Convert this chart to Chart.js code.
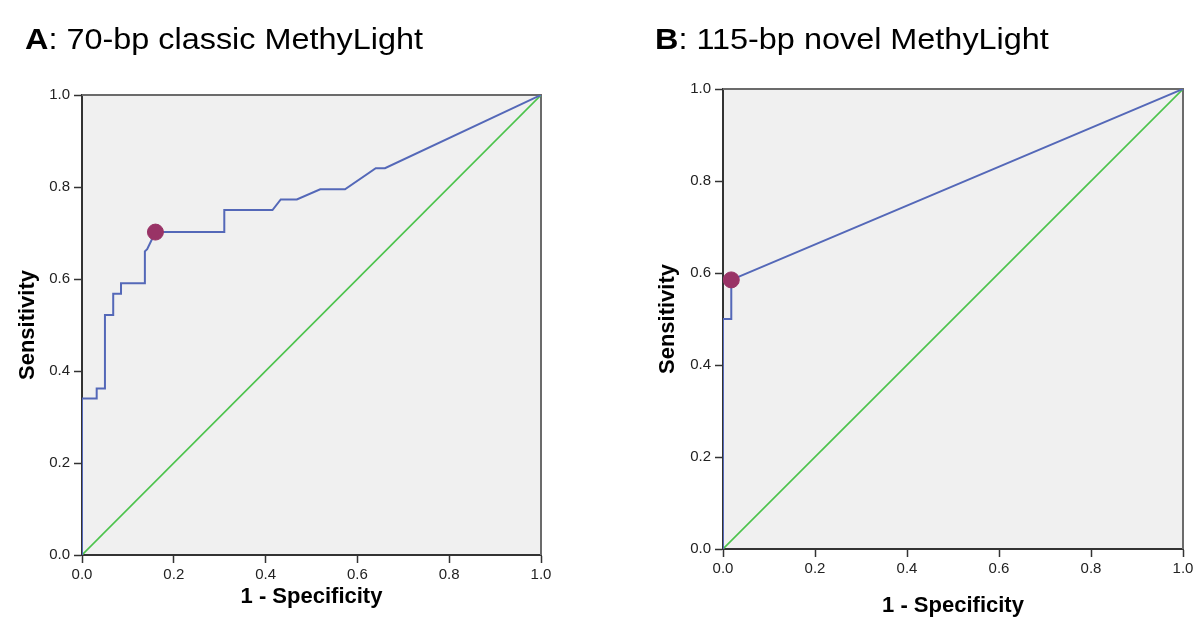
<!DOCTYPE html>
<html>
<head>
<meta charset="utf-8">
<script src="https://cdn.jsdelivr.net/npm/chart.js@4.4.0/dist/chart.umd.min.js"></script>
<style>
  body { margin: 0; background: #fff; width: 1200px; height: 643px; overflow: hidden; position: relative;
         font-family: "Liberation Sans", Arial, sans-serif; }
  .panel { position: absolute; top: 0; width: 600px; height: 643px; }
  .title { position: absolute; font-size: 30px; line-height: 30px; color: #000; white-space: nowrap;
           transform: scaleX(1.08); transform-origin: left top; }
</style>
</head>
<body>
<div class="panel" style="left:0"><canvas id="chartA"></canvas></div>
<div class="panel" style="left:600px"><canvas id="chartB"></canvas></div>
<div class="title" style="left:25px;top:24px"><b>A</b>: 70-bp classic MethyLight</div>
<div class="title" style="left:655px;top:24px"><b>B</b>: 115-bp novel MethyLight</div>

<script>
// ROC curve A (70-bp classic MethyLight)
const fprA = [0, 0, 0.032, 0.032, 0.05, 0.05, 0.068, 0.068, 0.085, 0.085, 0.137, 0.137,
              0.142, 0.16, 0.31, 0.31, 0.415, 0.433, 0.468, 0.519, 0.573, 0.64, 0.66, 1];
const tprA = [0, 0.34, 0.34, 0.362, 0.362, 0.522, 0.522, 0.568, 0.568, 0.591, 0.591, 0.66,
              0.665, 0.702, 0.702, 0.75, 0.75, 0.773, 0.773, 0.795, 0.795, 0.841, 0.841, 1];
const cutA = [0.16, 0.702];

// ROC curve B (115-bp novel MethyLight)
const fprB = [0, 0, 0.018, 0.018, 1];
const tprB = [0, 0.5, 0.5, 0.585, 1];
const cutB = [0.018, 0.585];

// reference diagonal
const refX = [0, 1];
const refY = [0, 1];

const tickValues = [0, 0.2, 0.4, 0.6, 0.8, 1.0];

function toPoints(xs, ys) {
    return xs.map(function (x, i) { return { x: x, y: ys[i] }; });
}

// grey plot background + frame
const plotFrame = {
    id: 'plotFrame',
    beforeDraw: function (chart) {
        const a = chart.chartArea;
        const ctx = chart.ctx;
        ctx.save();
        ctx.fillStyle = '#f0f0f0';
        ctx.fillRect(a.left, a.top, a.right - a.left, a.bottom - a.top);
        ctx.restore();
    },
    beforeDatasetsDraw: function (chart) {
        const a = chart.chartArea;
        const ctx = chart.ctx;
        ctx.save();
        ctx.strokeStyle = '#6b6b6b';
        ctx.lineWidth = 2;
        ctx.beginPath();
        ctx.moveTo(a.left, a.top);
        ctx.lineTo(a.right, a.top);
        ctx.lineTo(a.right, a.bottom);
        ctx.stroke();
        ctx.restore();
    }
};

function axis(titleText, fitSize, titlePad, horizontal) {
    return {
        type: 'linear',
        min: 0,
        max: 1,
        afterBuildTicks: function (scale) {
            scale.ticks = tickValues.map(function (v) { return { value: v }; });
        },
        afterFit: function (scale) {
            if (horizontal) scale.height = fitSize; else scale.width = fitSize;
        },
        ticks: {
            color: '#222',
            padding: horizontal ? 3 : 4,
            font: { family: '"Liberation Sans", Arial, sans-serif', size: 15 },
            callback: function (v) { return Number(v).toFixed(1); }
        },
        grid: { display: true, drawOnChartArea: false, drawTicks: true, tickLength: 8, color: '#333', tickWidth: 1.5 },
        border: { display: true, color: '#333', width: 2 },
        title: {
            display: true,
            text: titleText,
            color: '#000',
            // left title is offset by padding.top, bottom title by padding.bottom
            padding: horizontal ? { top: 0, bottom: titlePad } : { top: titlePad, bottom: 0 },
            font: { family: '"Liberation Sans", Arial, sans-serif', size: 22, weight: 'bold' }
        }
    };
}

// builds one ROC panel
function BuildRoc(canvasId, fpr, tpr, cut, pad, yWidth, yTitlePad, xHeight, xTitlePad) {
    const ctx = document.getElementById(canvasId).getContext('2d');
    return new Chart(ctx, {
        type: 'scatter',
        data: {
            datasets: [
                {   // cut-off point
                    data: toPoints([cut[0]], [cut[1]]),
                    backgroundColor: '#993366',
                    borderColor: '#993366',
                    pointRadius: 8,
                    showLine: false
                },
                {   // ROC curve
                    data: toPoints(fpr, tpr),
                    borderColor: '#5468b8',
                    borderWidth: 2,
                    pointRadius: 0,
                    showLine: true,
                    tension: 0
                },
                {   // reference line
                    data: toPoints(refX, refY),
                    borderColor: '#4cc34c',
                    borderWidth: 1.6,
                    pointRadius: 0,
                    showLine: true
                }
            ]
        },
        options: {
            responsive: true,
            maintainAspectRatio: false,
            animation: false,
            layout: { padding: pad },
            plugins: { legend: { display: false }, tooltip: { enabled: false } },
            scales: {
                x: axis('1 - Specificity', xHeight, xTitlePad, true),
                y: axis('Sensitivity', yWidth, yTitlePad, false)
            }
        },
        plugins: [plotFrame]
    });
}

BuildRoc('chartA', fprA, tprA, cutA, { top: 95, right: 59, left: 0, bottom: 0 }, 82, 15, 88, 33);
BuildRoc('chartB', fprB, tprB, cutB, { top: 89, right: 17, left: 0, bottom: 0 }, 123, 55, 94, 24);
</script>
</body>
</html>
